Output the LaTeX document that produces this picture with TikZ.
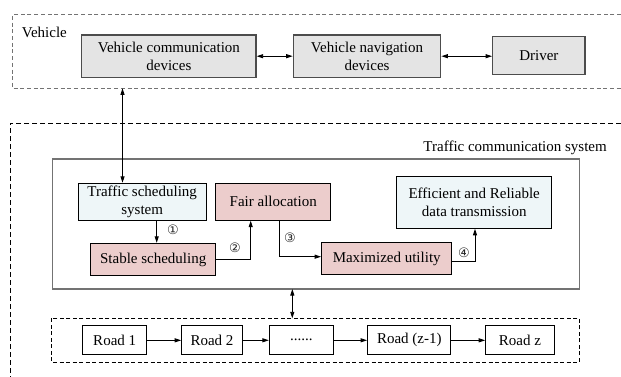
\documentclass[tikz,border=0pt]{standalone}
\usepackage{fontspec}
\setmainfont{Liberation Serif}
\newfontfamily\symfont{DejaVu Sans}
\usetikzlibrary{arrows.meta}
\definecolor{boxgray}{HTML}{E4E4E4}
\definecolor{boxblue}{HTML}{EEF6F8}
\definecolor{boxpink}{HTML}{ECCDCC}
\tikzset{
  txt/.style={font=\fontsize{15}{18}\selectfont},
  graybox/.style={txt, draw=black!70, line width=1.2pt, fill=boxgray, inner sep=0pt, align=center},
  bluebox/.style={txt, draw=black, line width=1pt, fill=boxblue, inner sep=0pt, align=center},
  pinkbox/.style={txt, draw=black, line width=1pt, fill=boxpink, inner sep=0pt, align=center},
  roadbox/.style={txt, draw=black, line width=1pt, fill=white, inner sep=0pt, align=center, minimum height=29.3pt},
  conn/.style={line width=0.9pt, -{Triangle[length=6.5pt,width=4pt]}},
  dconn/.style={line width=0.9pt, {Triangle[length=6.5pt,width=4pt]}-{Triangle[length=6.5pt,width=4pt]}},
  numlab/.style={font=\symfont\fontsize{13}{15}\selectfont, inner sep=0pt, text=black!85},
}
\begin{document}
\begin{tikzpicture}[x=1pt,y=-1pt]
\useasboundingbox (0,0) rectangle (621,377);
% Vehicle region (dashed, gray)
\draw[black!55, line width=1pt, dash pattern=on 4pt off 2.7pt] (621,15) -- (12.3,15) -- (12.3,88.3) -- (621,88.3);
\node[txt, anchor=base west, inner sep=0pt] (vlab) at (21.7,38) {Vehicle};
% Traffic region (dashed, black)
\draw[black, line width=1pt, dash pattern=on 5pt off 3pt] (621,123.3) -- (10,123.3) -- (10,377);
\node[txt, anchor=base east, inner sep=0pt] (tlab) at (607,151) {Traffic communication system};
% inner solid box
\draw[black!55, line width=1.2pt] (52.5,159) rectangle (579.3,289);
\coordinate (innerbot) at (292.3,289);
% roads dashed box
\draw[black, line width=1pt, dash pattern=on 4pt off 2.5pt] (51.7,318.3) rectangle (579.3,362.3);
\coordinate (roadtop) at (292.3,318.3);
% vehicle boxes
\node[graybox, minimum width=174.3pt, minimum height=42.3pt] (vcd) at (168.9,56.2) {Vehicle communication\\devices};
\node[graybox, minimum width=147.4pt, minimum height=42.3pt] (vnd) at (367,56.2) {Vehicle navigation\\devices};
\node[graybox, minimum width=92.3pt, minimum height=38pt] (drv) at (538.9,55.5) {Driver};
\coordinate (vbot) at (122.5,88.3);
% traffic boxes
\node[bluebox, minimum width=127.7pt, minimum height=36.7pt] (tss) at (142.2,201.7) {Traffic scheduling\\system};
\node[pinkbox, minimum width=115pt, minimum height=36.7pt] (fair) at (273.2,201.7) {Fair allocation};
\node[pinkbox, minimum width=125pt, minimum height=32.4pt] (stab) at (153.2,259.5) {Stable scheduling};
\node[bluebox, minimum width=155pt, minimum height=52.3pt] (eff) at (474.2,202.2) {Efficient and Reliable\\data transmission};
\node[pinkbox, minimum width=130pt, minimum height=31.6pt] (maxu) at (386.7,258.5) {Maximized utility};
% roads
\node[roadbox, minimum width=64pt] (r1) at (114.7,340.3) {Road 1};
\node[roadbox, minimum width=60.6pt] (r2) at (212,340.3) {Road 2};
\node[roadbox, minimum width=64pt] (rd) at (301.3,340.3) {\raisebox{0.3ex}{......}};
\node[roadbox, minimum width=83.3pt] (rz1) at (409.3,340.3) {Road (z-1)};
\node[roadbox, minimum width=68.6pt] (rz) at (520,340.3) {Road z};
% connectors
\draw[dconn] (vcd.east) -- (vnd.west);
\draw[dconn] (vnd.east) -- (vnd.east -| drv.west);
\draw[dconn] (vbot) -- (vbot |- tss.north);
\draw[conn] (tss.south -| 156.7,0) -- (stab.north -| 156.7,0);
\draw[conn] (stab.east |- 0,259) -| (fair.south -| 250.7,0);
\draw[conn] (fair.south -| 279,0) |- (maxu.west |- 0,256.7);
\draw[conn] (maxu.east |- 0,261.7) -| (eff.south -| 475,0);
\draw[dconn] (innerbot) -- (roadtop);
\draw[conn] (r1) -- (r2);
\draw[conn] (r2) -- (rd);
\draw[conn] (rd) -- (rz1);
\draw[conn] (rz1) -- (rz);
% step labels
\node[numlab] (n1) at (173,230) {①};
\node[numlab] (n2) at (235,248) {②};
\node[numlab] (n3) at (290,237.7) {③};
\node[numlab] (n4) at (464,253) {④};
\end{tikzpicture}
\end{document}
